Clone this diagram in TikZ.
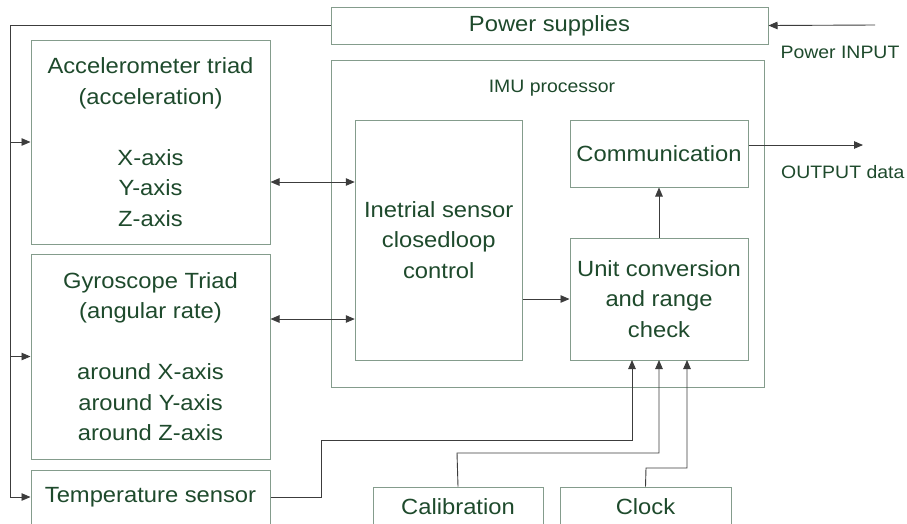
\documentclass[tikz,border=0pt]{standalone}
\usepackage{fontspec}
\setmainfont{Liberation Sans}[FakeStretch=1.08]
\usetikzlibrary{arrows.meta}
\definecolor{boxline}{HTML}{849C8C}
\definecolor{txtgreen}{HTML}{1E4A2C}
\definecolor{wire}{HTML}{3C3C3C}
\tikzset{
  block/.style={draw=boxline, line width=1pt, inner sep=0pt, align=center,
    text=txtgreen, font=\fontsize{22}{30.5}\selectfont},
  lbl/.style={inner sep=0pt, text=txtgreen, font=\fontsize{18}{22}\selectfont},
  wireline/.style={draw=wire, line width=0.9pt},
  tip/.style={wireline, -{Triangle[length=9pt,width=7.5pt]}},
  bitip/.style={wireline, {Triangle[length=9pt,width=7.5pt]}-{Triangle[length=9pt,width=7.5pt]}}
}
\begin{document}
\begin{tikzpicture}[x=1pt, y=-1pt]
\useasboundingbox (0,0) rectangle (907,523);
\clip (0,0) rectangle (907,523);
\fill[white] (0,0) rectangle (907,523);

% outer processor frame
\node[block, minimum width=433pt, minimum height=327pt] (imu) at (547.5,223.5) {};
\node[lbl] (imulbl) at (552,88) {IMU processor};

% blocks
\node[block, minimum width=437pt, minimum height=37pt] (ps) at (549.5,25.5) {Power supplies};
\node[block, minimum width=239pt, minimum height=204pt] (acc) at (150.5,142)
  {Accelerometer triad\\(acceleration)\\[30.5pt]X-axis\\Y-axis\\Z-axis};
\node[block, minimum width=239pt, minimum height=205pt] (gyro) at (150.5,356.5)
  {Gyroscope Triad\\(angular rate)\\[30.5pt]around X-axis\\around Y-axis\\around Z-axis};
\node[block, minimum width=239pt, minimum height=54pt] (temp) at (150.5,497) {Temperature sensor};
\node[block, minimum width=167pt, minimum height=240pt] (inert) at (438.75,240)
  {Inetrial sensor\\closedloop\\control};
\node[block, minimum width=178pt, minimum height=67pt] (comm) at (659,153.5) {Communication};
\node[block, minimum width=178pt, minimum height=122pt] (unit) at (659,299)
  {Unit conversion\\and range\\check};
\node[block, minimum width=170pt, minimum height=40pt] (calib) at (458,507) {Calibration};
\node[block, minimum width=171pt, minimum height=40pt] (clock) at (645.5,507) {Clock};

% external labels
\node[lbl] (pinlbl) at (840,52) {Power INPUT};
\node[lbl, anchor=west] (outlbl) at (781,172) {OUTPUT data};

% routing points
\coordinate (rail) at (10,25);
\coordinate (pin) at (875,25);
\coordinate (out) at (863,145);
\coordinate (ya) at (0,182);
\coordinate (yg) at (0,319);
\coordinate (tbend) at (321,440);
\coordinate (cbend) at (457,453);
\coordinate (kbend) at (646,468);
\coordinate (in1) at (632,360);
\coordinate (in2) at (659,360);
\coordinate (in3) at (687,360);

% power distribution
\draw[tip] (pin) -- (ps.east);
\draw[wireline] (ps.west |- rail) -- (rail) -- (rail |- temp.west);
\draw[tip] (rail |- acc.west) -- (acc.west);
\draw[tip] (rail |- gyro.west) -- (gyro.west);
\draw[tip] (rail |- temp.west) -- (temp.west);

% sensor data exchange
\draw[bitip] (acc.east |- ya) -- (inert.west |- ya);
\draw[bitip] (gyro.east |- yg) -- (inert.west |- yg);
\draw[tip] (inert.east |- unit.west) -- (unit.west);
\draw[tip] (unit.north) -- (comm.south);
\draw[tip] (comm.east |- out) -- (out);

% inputs to unit conversion
\draw[tip] (temp.east) -- (tbend |- temp.east) -- (tbend) -- (in1 |- tbend) -- (in1);
\draw[tip] (calib.north) -- (cbend) -- (in2 |- cbend) -- (in2);
\draw[tip] (clock.north) -- (kbend) -- (in3 |- kbend) -- (in3);
\end{tikzpicture}
\end{document}
